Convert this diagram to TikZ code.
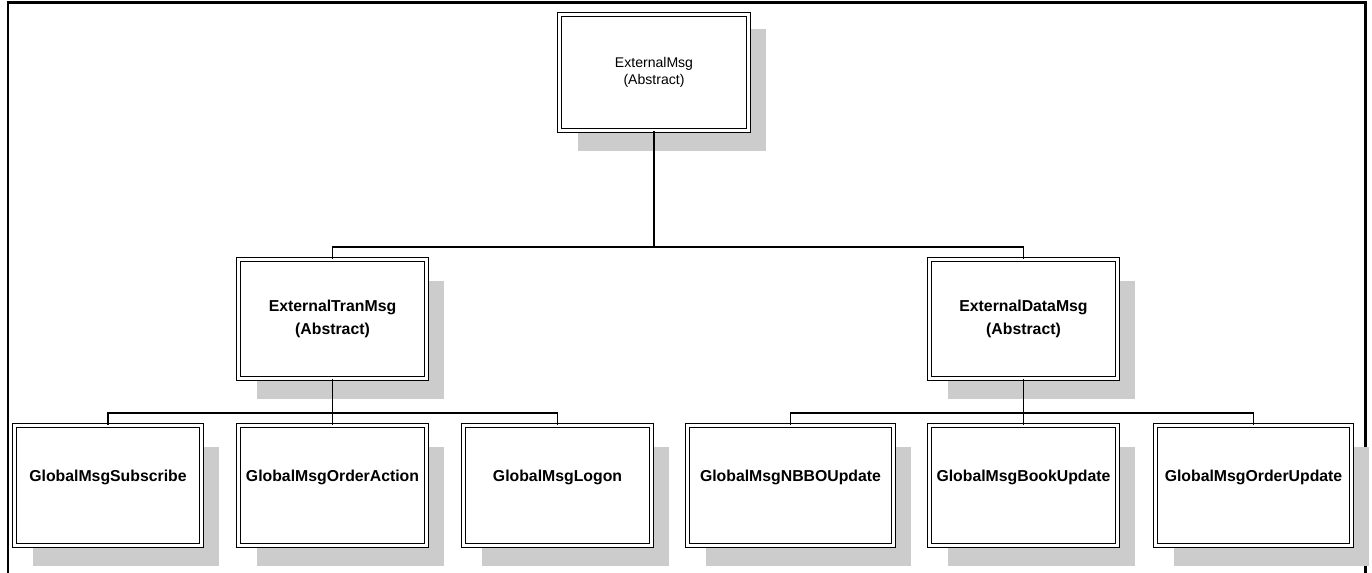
\documentclass[tikz,border=0pt]{standalone}
\usepackage{fontspec}
\setmainfont{Liberation Sans}
\usetikzlibrary{shadows}
\tikzset{
  msgbox/.style={draw, double, line width=0.7pt, double distance=1.4pt,
    fill=white, inner sep=0pt, align=center,
    general shadow={fill=black!20, shadow xshift=0.36cm, shadow yshift=-0.42cm}},
  topbox/.style={msgbox, minimum width=3.78cm, minimum height=2.32cm,
    font=\fontsize{8}{10}\selectfont,
    general shadow={fill=black!20, shadow xshift=0.36cm, shadow yshift=-0.28cm}},
  midbox/.style={msgbox, minimum width=3.76cm, minimum height=2.38cm,
    font=\bfseries\fontsize{9}{13}\selectfont},
  leafbox/.style={msgbox, minimum width=#1, minimum height=2.40cm,
    font=\bfseries\fontsize{9}{11}\selectfont, text height=7pt, text depth=12pt},
  link/.style={line width=0.7pt}
}
\begin{document}
\begin{tikzpicture}[x=0.02cm, y=-0.02cm]
\useasboundingbox (0,0) rectangle (1372,573);
\draw[line width=1.7pt] (8,600) -- (8,3) -- (1365,3) -- (1365,600);
% root
\node[topbox] (extmsg) at (654,72.5) {ExternalMsg\\(Abstract)};
% abstract subclasses
\node[midbox] (tranmsg) at (332.5,319) {ExternalTranMsg\\(Abstract)};
\node[midbox] (datamsg) at (1023.5,319) {ExternalDataMsg\\(Abstract)};
% concrete messages
\node[leafbox=3.74cm] (subscribe) at (108,485.5) {GlobalMsgSubscribe};
\node[leafbox=3.76cm] (orderaction) at (332.5,485.5) {GlobalMsgOrderAction};
\node[leafbox=3.76cm] (logon) at (557.5,485.5) {GlobalMsgLogon};
\node[leafbox=4.12cm] (nbbo) at (790.5,485.5) {GlobalMsgNBBOUpdate};
\node[leafbox=3.76cm] (book) at (1023.5,485.5) {GlobalMsgBookUpdate};
\node[leafbox=3.92cm] (orderupd) at (1253.5,485.5) {GlobalMsgOrderUpdate};
% connectors
\coordinate (bustop) at (654,247);
\coordinate (busleft) at (332.5,413);
\coordinate (busright) at (1023.5,413);
\draw[link] (extmsg.south) -- (bustop);
\draw[link] (tranmsg.north) |- (bustop) -| (datamsg.north);
\draw[link] (tranmsg.south) -- (busleft);
\draw[link] (subscribe.north) |- (busleft) -| (logon.north);
\draw[link] (busleft) -- (orderaction.north);
\draw[link] (datamsg.south) -- (busright);
\draw[link] (nbbo.north) |- (busright) -| (orderupd.north);
\draw[link] (busright) -- (book.north);
\end{tikzpicture}
\end{document}
